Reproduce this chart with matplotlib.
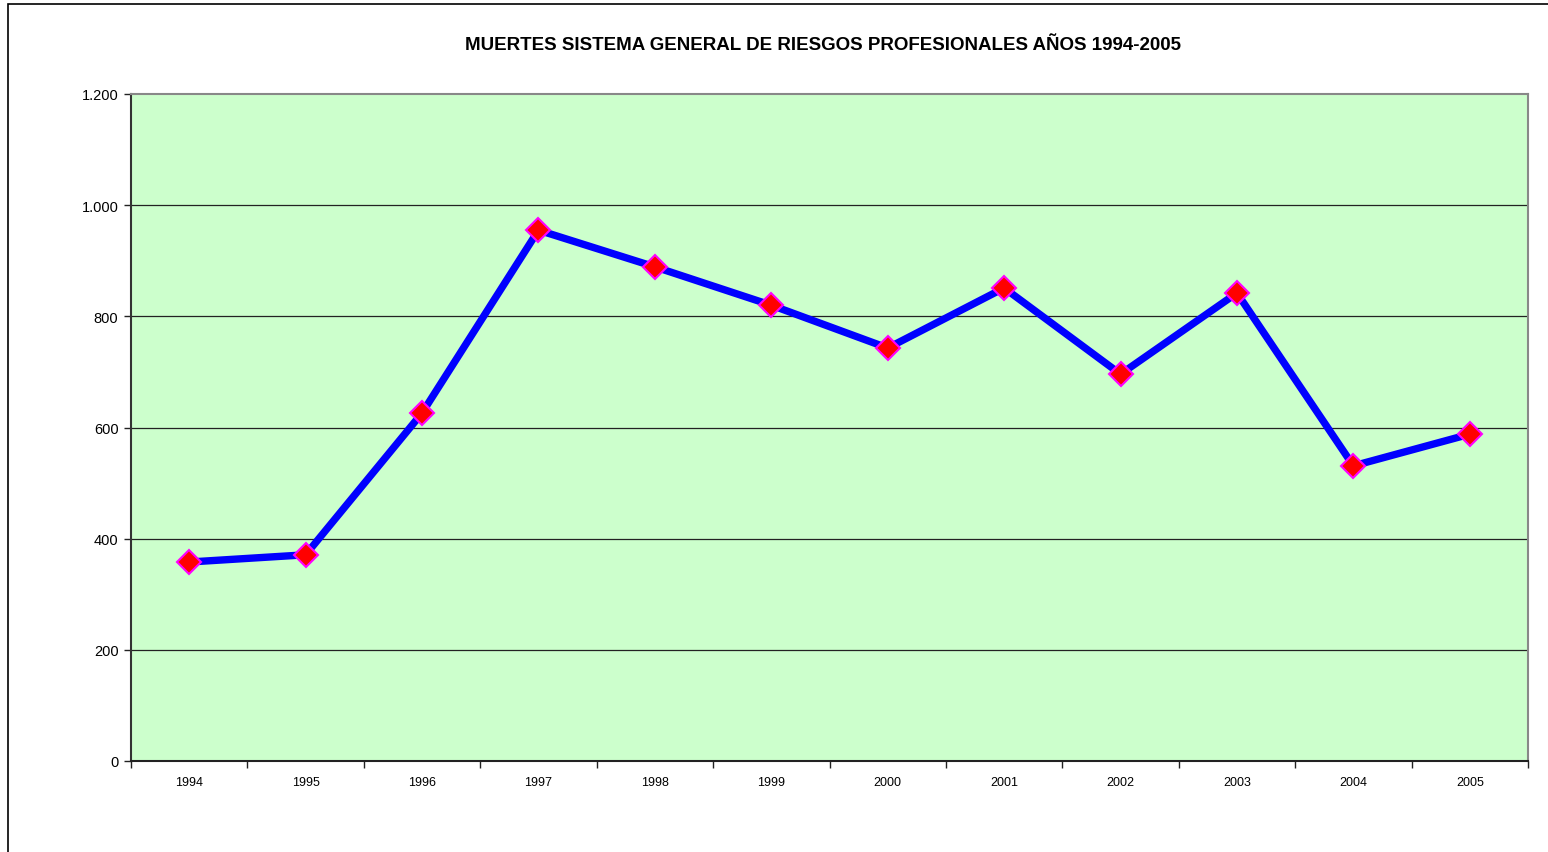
import matplotlib
matplotlib.use('Agg')
import matplotlib.pyplot as plt
from matplotlib.patches import Rectangle
from matplotlib.ticker import FixedLocator, FuncFormatter

# Data
years = ['1994', '1995', '1996', '1997', '1998', '1999',
         '2000', '2001', '2002', '2003', '2004', '2005']
deaths = [358, 371, 626, 955, 889, 820, 743, 851, 696, 842, 531, 588]
y_ticks = [0, 200, 400, 600, 800, 1000, 1200]

plt.rcParams['font.family'] = ['Liberation Sans', 'DejaVu Sans']

fig = plt.figure(figsize=(15.48, 8.53), dpi=100)

# outer chart border
fig.patches.append(Rectangle((8 / 1548, -0.01), 1.0, (853 - 5) / 853 + 0.01,
                             transform=fig.transFigure, fill=False,
                             edgecolor='black', linewidth=1.2))

ax = fig.add_axes([131 / 1548, (853 - 762) / 853, (1528 - 131) / 1548, 667 / 853])
ax.set_facecolor('#CCFFCC')

x = list(range(len(years)))
ax.plot(x, deaths, color='#0000FF', linewidth=5.3, zorder=3)
ax.plot(x, deaths, linestyle='none', marker='D', markersize=12.5,
        markerfacecolor='#FF0000', markeredgecolor='#FF00FF',
        markeredgewidth=1.5, zorder=4)

ax.set_xlim(-0.5, len(years) - 0.5)
ax.set_ylim(0, 1200)

# category ticks between the points, labels centred under them
ax.xaxis.set_major_locator(FixedLocator([i - 0.5 for i in range(len(years) + 1)]))
ax.xaxis.set_minor_locator(FixedLocator(x))
ax.set_xticklabels([])
ax.set_xticklabels(years, minor=True)
ax.tick_params(axis='x', which='major', length=5, width=1, color='#222222')
ax.tick_params(axis='x', which='minor', length=0, labelsize=9, pad=11)

ax.set_yticks(y_ticks)
ax.yaxis.set_major_formatter(FuncFormatter(lambda v, p: f'{int(v):,}'.replace(',', '.')))
ax.tick_params(axis='y', length=5, width=1, labelsize=10.5, color='#222222', pad=4)

for v in y_ticks[1:-1]:
    ax.axhline(v, color='#222222', linewidth=0.9, zorder=1)

ax.spines['left'].set_color('#333333')
ax.spines['bottom'].set_color('#222222')
ax.spines['top'].set_color('#888888')
ax.spines['right'].set_color('#888888')
for s in ax.spines.values():
    s.set_linewidth(1.5)

fig.text((414 + 1232) / 2 / 1548, 1 - 46 / 853,
         'MUERTES SISTEMA GENERAL DE RIESGOS PROFESIONALES AÑOS 1994-2005',
         ha='center', va='center', fontsize=13.5, fontweight='bold')

fig.savefig('out.png', dpi=100)
